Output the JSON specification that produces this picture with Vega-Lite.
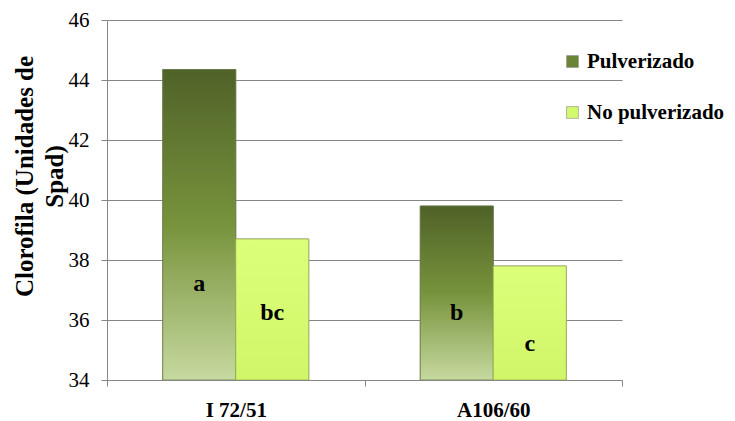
{
  "$schema": "https://vega.github.io/schema/vega-lite/v6.json",
  "width": 515,
  "height": 360,
  "autosize": {"type": "none"},
  "padding": {"left": 107, "top": 20, "right": 113, "bottom": 41},
  "background": "white",
  "config": {
    "view": {"stroke": null},
    "font": "'Liberation Serif', 'Times New Roman', serif",
    "axis": {"labelFont": "'Liberation Serif', 'Times New Roman', serif", "titleFont": "'Liberation Serif', 'Times New Roman', serif"},
    "legend": {"labelFont": "'Liberation Serif', 'Times New Roman', serif"},
    "text": {"font": "'Liberation Serif', 'Times New Roman', serif"}
  },
  "data": {
    "values": [
      {"Genotipo": "I 72/51", "Tratamiento": "Pulverizado", "Clorofila": 44.35, "Base": 34, "Letra": "a", "PosLetra": 37.2},
      {"Genotipo": "I 72/51", "Tratamiento": "No pulverizado", "Clorofila": 38.7, "Base": 34, "Letra": "bc", "PosLetra": 36.25},
      {"Genotipo": "A106/60", "Tratamiento": "Pulverizado", "Clorofila": 39.8, "Base": 34, "Letra": "b", "PosLetra": 36.25},
      {"Genotipo": "A106/60", "Tratamiento": "No pulverizado", "Clorofila": 37.8, "Base": 34, "Letra": "c", "PosLetra": 35.2}
    ]
  },
  "encoding": {
    "x": {
      "field": "Genotipo",
      "type": "nominal",
      "sort": ["I 72/51", "A106/60"],
      "scale": {"paddingInner": 0, "paddingOuter": 0},
      "axis": {
        "title": null,
        "labelAngle": 0,
        "labelFontSize": 21,
        "labelFontWeight": "bold",
        "labelColor": "black",
        "labelPadding": 13,
        "tickBand": "extent",
        "tickSize": 6,
        "tickColor": "#868686",
        "domainColor": "#868686",
        "grid": false,
        "zindex": 1
      }
    },
    "xOffset": {
      "field": "Tratamiento",
      "type": "nominal",
      "sort": ["Pulverizado", "No pulverizado"],
      "scale": {"domain": ["Pulverizado", "No pulverizado"], "paddingInner": 0, "paddingOuter": 0.764}
    },
    "y": {
      "field": "Clorofila",
      "type": "quantitative",
      "scale": {"domain": [34, 46], "zero": false, "nice": false},
      "axis": {
        "values": [34, 36, 38, 40, 42, 44, 46],
        "title": ["Clorofila  (Unidades de", "Spad)"],
        "titleFontSize": 25,
        "titleFontWeight": "bold",
        "titleColor": "black",
        "titleAngle": -90,
        "titleAlign": "center",
        "titleBaseline": "middle",
        "titleLineHeight": 30,
        "titleX": -83,
        "titleY": 156,
        "labelFontSize": 21,
        "labelColor": "black",
        "labelPadding": 12,
        "tickSize": 6,
        "tickColor": "#868686",
        "domainColor": "#868686",
        "gridColor": "#868686",
        "gridWidth": 1
      }
    },
    "y2": {"field": "Base"}
  },
  "layer": [
    {
      "mark": {"type": "bar", "stroke": "#7f7f7f", "strokeWidth": 0.8},
      "encoding": {
        "fill": {
          "field": "Tratamiento",
          "type": "nominal",
          "sort": ["Pulverizado", "No pulverizado"],
          "scale": {
            "domain": ["Pulverizado", "No pulverizado"],
            "range": ["#6a8535", "#d3f96c"]
          },
          "legend": {
            "title": null,
            "orient": "none",
            "legendX": 455,
            "legendY": 31,
            "symbolType": "square",
            "symbolSize": 140,
            "symbolStrokeColor": "#8a8a8a",
            "symbolStrokeWidth": 0.6,
            "labelFontSize": 21,
            "labelFontWeight": "bold",
            "labelColor": "black",
            "labelOffset": 4,
            "rowPadding": 29
          }
        }
      }
    },
    {
      "transform": [{"filter": "datum.Tratamiento === 'Pulverizado'"}],
      "mark": {
        "type": "bar",
        "stroke": "#6b7f4a",
        "strokeWidth": 0.8,
        "color": {"gradient": "linear", "x1": 0, "y1": 0, "x2": 0, "y2": 1, "stops": [
          {"offset": 0, "color": "#4f6228"},
          {"offset": 0.5, "color": "#77933c"},
          {"offset": 1, "color": "#c6d99f"}
        ]}
      },
      "encoding": {}
    },
    {
      "transform": [{"filter": "datum.Tratamiento === 'No pulverizado'"}],
      "mark": {
        "type": "bar",
        "stroke": "#9bb050",
        "strokeWidth": 0.8,
        "color": {"gradient": "linear", "x1": 0, "y1": 0, "x2": 0, "y2": 1, "stops": [
          {"offset": 0, "color": "#dcff7a"},
          {"offset": 1, "color": "#d0f668"}
        ]}
      },
      "encoding": {}
    },
    {
      "mark": {"type": "text", "fontSize": 24, "fontWeight": "bold", "color": "black", "baseline": "middle", "align": "center"},
      "encoding": {
        "y": {"field": "PosLetra", "type": "quantitative"},
        "y2": null,
        "text": {"field": "Letra", "type": "nominal"}
      }
    }
  ]
}
